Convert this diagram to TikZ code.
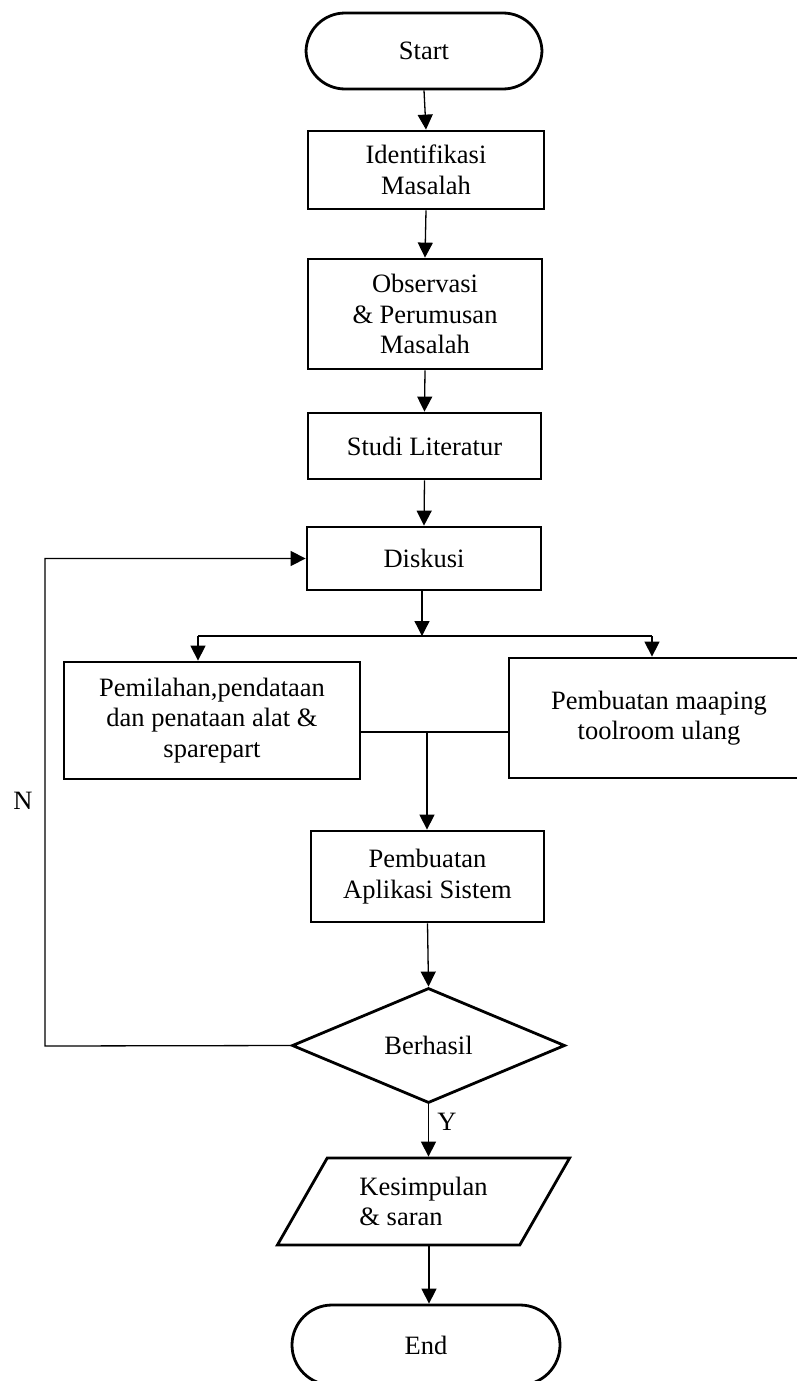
\documentclass[tikz,border=0pt]{standalone}
\usepackage{fontspec}
\setmainfont{Liberation Serif}
\usetikzlibrary{arrows.meta,shapes.geometric}
\newcommand\figfont{\fontsize{13.25pt}{15.25pt}\selectfont}
\begin{document}
\begin{tikzpicture}[x=0.5pt,y=-0.5pt,
  every node/.style={font=\figfont},
  shp/.style={draw,line width=1.4pt,inner sep=0pt,align=center},
  box/.style={shp,rectangle},
  term/.style={shp,rectangle,rounded corners=19.5pt},
  conn/.style={line width=0.65pt},
  arr/.style={conn,-{Triangle[width=7.5pt,length=7.5pt]}}]
\path[use as bounding box,fill=white] (0,0) rectangle (797,1381);

\node[term,minimum width=118pt,minimum height=38pt] (start) at (424,51) {Start};
\node[box,minimum width=118pt,minimum height=39pt] (ident) at (426,170) {Identifikasi\\Masalah};
\node[box,minimum width=117pt,minimum height=55pt] (obs) at (425,314) {Observasi\\\& Perumusan\\Masalah};
\node[box,minimum width=116.5pt,minimum height=33pt] (studi) at (424.5,446) {Studi Literatur};
\node[box,minimum width=117pt,minimum height=31.5pt] (disk) at (424,558.5) {Diskusi};
\node[box,minimum width=148pt,minimum height=58.5pt] (left) at (212,720.5) {Pemilahan,pendataan\\dan penataan alat \&\\sparepart};
\node[box,minimum width=150pt,minimum height=60pt] (right) at (659,718) {Pembuatan maaping\\toolroom ulang};
\node[box,minimum width=116.5pt,minimum height=45.5pt] (apl) at (427.5,876.5) {Pembuatan\\Aplikasi Sistem};
\node[shp,diamond,minimum width=136.5pt,minimum height=57.5pt] (dia) at (428.5,1045.5) {Berhasil};
\node[shp,trapezium,trapezium left angle=56,trapezium right angle=124,trapezium stretches=true,
      minimum width=147.5pt,minimum height=43.5pt,align=left] (kes) at (423.5,1201.5) {Kesimpulan\\\& saran};
\node[shp,rectangle,rounded corners=20pt,minimum width=134pt,minimum height=40pt] (end) at (426,1345) {End};

\node (nlab) at (23,801) {N};
\node (ylab) at (447,1122) {Y};

\coordinate (split) at (422,636);
\coordinate (sl) at (198,636);
\coordinate (sr) at (652,636);
\coordinate (join) at (427,732);
\coordinate (loop) at (45,1046);
\coordinate (down) at (429,1200);

\draw[arr] (start.south) -- (ident.north);
\draw[arr] (ident.south) -- (obs.north);
\draw[arr] (obs.south) -- (studi.north);
\draw[arr] (studi.south) -- (disk.north);
\draw[arr] (disk.south -| split) -- (split);
\draw[conn] (sl) -- (sr);
\draw[arr] (sl) -- (sl |- left.north);
\draw[arr] (sr) -- (sr |- right.north);
\draw[conn] (join -| left.east) -- (join -| right.west);
\draw[arr] (join) -- (join |- apl.north);
\draw[arr] (apl.south) -- (dia.north);
\draw[arr] (dia.west) -- (loop) |- (disk.west);
\draw[arr] (dia.south) -- (dia.south |- kes.north);
\draw[arr] (down |- kes.south) -- (down |- end.north);
\end{tikzpicture}
\end{document}
